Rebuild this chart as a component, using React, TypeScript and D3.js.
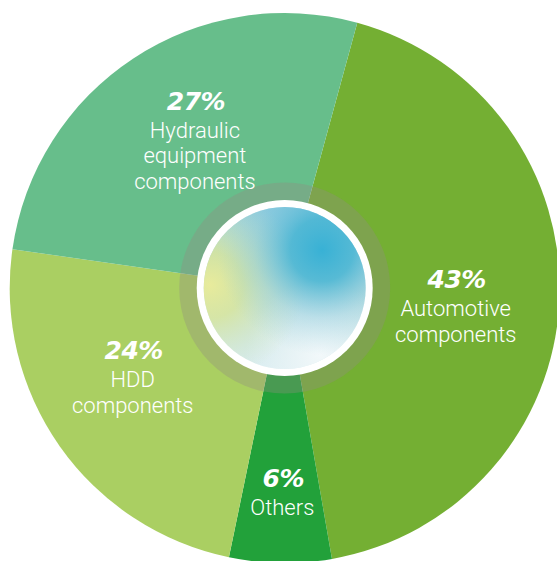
import React from "react";
import * as d3 from "d3";

const categories = ["Automotive components", "Others", "HDD components", "Hydraulic equipment components"];
const labelLines = [["Automotive", "components"], ["Others"], ["HDD", "components"], ["Hydraulic", "equipment", "components"]];
const shares = [43, 6, 24, 27];
const percentLabels = ["43%", "6%", "24%", "27%"];
const sliceColors = ["#74AF33", "#22A13A", "#AACF62", "#67BE8B"];

const W = 557;
const H = 561;
const cx = 284.7;
const cy = 288;
const R = 275;
const startDeg = 15.3;
// label placement tweaks (radius, angle shift in degrees)
const labelRadius = [172, 199, 167, 199];
const labelAngleShift = [-2.7, -0.5, 9.8, 6.8];

export default function App() {
  const a0 = (startDeg * Math.PI) / 180;
  const pie = d3
    .pie<number>()
    .sort(null)
    .value((d) => d)
    .startAngle(a0)
    .endAngle(a0 + 2 * Math.PI);
  const arcs = pie(shares);
  const arcGen = d3.arc<d3.PieArcDatum<number>>().innerRadius(0).outerRadius(R);

  return (
    <svg
      width={W}
      height={H}
      style={{ position: "absolute", left: 0, top: 0, display: "block" }}
    >
      <defs>
        <radialGradient id="gBlue" cx="322" cy="250" r="105" gradientUnits="userSpaceOnUse">
          <stop offset="0" stopColor="#38B1D5" stopOpacity="1" />
          <stop offset="0.3" stopColor="#45B4D3" stopOpacity="0.85" />
          <stop offset="0.65" stopColor="#7CC4DC" stopOpacity="0.35" />
          <stop offset="1" stopColor="#9ACFE0" stopOpacity="0" />
        </radialGradient>
        <radialGradient id="gYellow" cx="210" cy="285" r="95" gradientUnits="userSpaceOnUse">
          <stop offset="0" stopColor="#E8EB9C" stopOpacity="1" />
          <stop offset="0.35" stopColor="#D8E597" stopOpacity="0.8" />
          <stop offset="0.75" stopColor="#D2E6B4" stopOpacity="0.3" />
          <stop offset="1" stopColor="#D2E6B4" stopOpacity="0" />
        </radialGradient>
        <radialGradient id="gWhite" cx="320" cy="355" r="75" gradientUnits="userSpaceOnUse">
          <stop offset="0" stopColor="#F2F8FA" stopOpacity="1" />
          <stop offset="1" stopColor="#F2F8FA" stopOpacity="0" />
        </radialGradient>
        <linearGradient id="gBase" x1="0" y1="0" x2="0" y2="1">
          <stop offset="0" stopColor="#8FCCDF" />
          <stop offset="0.5" stopColor="#C6E2E0" />
          <stop offset="1" stopColor="#D8ECF0" />
        </linearGradient>
      </defs>
      <g transform={`translate(${cx},${cy})`}>
        {arcs.map((a, i) => (
          <path key={categories[i]} d={arcGen(a) || ""} fill={sliceColors[i]} />
        ))}
        <circle r={105.5} fill="rgb(145,140,130)" fillOpacity={0.35} />
        <circle r={88} fill="#FFFFFF" />
        <g transform={`translate(${-cx},${-cy})`}>
          <circle cx={cx} cy={cy} r={81} fill="url(#gBase)" />
          <circle cx={cx} cy={cy} r={81} fill="url(#gWhite)" />
          <circle cx={cx} cy={cy} r={81} fill="url(#gYellow)" />
          <circle cx={cx} cy={cy} r={81} fill="url(#gBlue)" />
        </g>
        {arcs.map((a, i) => {
          const mid = (a.startAngle + a.endAngle) / 2 + (labelAngleShift[i] * Math.PI) / 180;
          const x = Math.sin(mid) * labelRadius[i];
          const y = -Math.cos(mid) * labelRadius[i];
          return (
            <g key={"l" + i} transform={`translate(${x},${y})`} fill="#FFFFFF" textAnchor="middle">
              <text
                x={0}
                y={0}
                fontFamily="'DejaVu Sans', sans-serif"
                fontWeight="bold"
                fontStyle="italic"
                fontSize={25}
                letterSpacing={-0.5}
              >
                {percentLabels[i]}
              </text>
              {labelLines[i].map((line, j) => (
                <text
                  key={j}
                  x={-1}
                  y={28 + j * 25.5}
                  fontFamily="Roboto, 'Open Sans', sans-serif"
                  fontWeight={300}
                  fontSize={22}
                >
                  {line}
                </text>
              ))}
            </g>
          );
        })}
      </g>
    </svg>
  );
}
